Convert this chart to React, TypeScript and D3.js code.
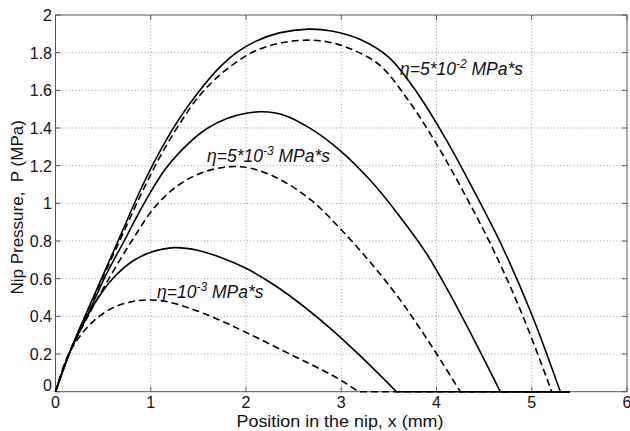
import React from "react";
import * as d3 from "d3";

type Pt = [number, number];

// η = 5*10^-2 MPa*s
const solidHigh: Pt[] = [[0,0],[0.15,0.21],[0.3,0.39],[0.5,0.62],[0.7,0.85],[0.9,1.08],[1.1,1.28],[1.3,1.45],[1.5,1.59],[1.7,1.71],[1.9,1.8],[2.1,1.86],[2.35,1.905],[2.65,1.925],[2.9,1.915],[3.2,1.87],[3.5,1.775],[3.8,1.585],[4.1,1.34],[4.4,1.06],[4.7,0.76],[5.0,0.41],[5.3,0],[5.4,0]];
const dashedHigh: Pt[] = [[0,0],[0.15,0.21],[0.3,0.385],[0.5,0.61],[0.7,0.83],[0.9,1.05],[1.1,1.25],[1.3,1.42],[1.5,1.565],[1.7,1.67],[1.9,1.75],[2.1,1.81],[2.35,1.85],[2.6,1.866],[2.85,1.858],[3.1,1.82],[3.4,1.735],[3.7,1.55],[4.0,1.315],[4.3,1.045],[4.6,0.75],[4.9,0.41],[5.21,0],[5.4,0]];
// η = 5*10^-3 MPa*s
const solidMid: Pt[] = [[0,0],[0.15,0.21],[0.33,0.4],[0.52,0.61],[0.72,0.8],[0.93,1.0],[1.15,1.18],[1.4,1.32],[1.6,1.4],[1.8,1.45],[2.0,1.478],[2.17,1.486],[2.4,1.468],[2.7,1.39],[3.0,1.275],[3.3,1.125],[3.6,0.94],[3.9,0.73],[4.15,0.51],[4.4,0.27],[4.67,0],[5.4,0]];
const dashedMid: Pt[] = [[0,0],[0.15,0.21],[0.34,0.4],[0.56,0.6],[0.8,0.8],[1.05,0.985],[1.3,1.1],[1.55,1.165],[1.85,1.195],[2.1,1.18],[2.4,1.115],[2.7,1.01],[3.0,0.86],[3.3,0.69],[3.6,0.5],[3.9,0.28],[4.25,0],[5.4,0]];
// η = 10^-3 MPa*s
const solidLow: Pt[] = [[0,0],[0.15,0.21],[0.3,0.37],[0.45,0.5],[0.6,0.6],[0.8,0.69],[1.0,0.74],[1.25,0.765],[1.5,0.75],[1.75,0.71],[2.0,0.655],[2.3,0.565],[2.6,0.455],[2.9,0.33],[3.2,0.19],[3.58,0],[5.4,0]];
const dashedLow: Pt[] = [[0,0],[0.12,0.18],[0.25,0.29],[0.4,0.375],[0.6,0.445],[0.8,0.478],[0.95,0.487],[1.15,0.48],[1.4,0.445],[1.7,0.385],[2.0,0.315],[2.5,0.19],[2.8,0.115],[3.0,0.06],[3.18,0],[5.4,0]];

const xTicks = [0, 1, 2, 3, 4, 5, 6];
const yTicks = [0, 0.2, 0.4, 0.6, 0.8, 1, 1.2, 1.4, 1.6, 1.8, 2];
const xLabel = "Position in the nip, x (mm)";
const yLabel = "Nip Pressure,  P (MPa)";

const series = [
  { data: solidHigh, dashed: false },
  { data: dashedHigh, dashed: true },
  { data: solidMid, dashed: false },
  { data: dashedMid, dashed: true },
  { data: solidLow, dashed: false },
  { data: dashedLow, dashed: true },
];

const annotations = [
  { x: 400, y: 75, exp: "-2", pre: "5*" },
  { x: 207, y: 162, exp: "-3", pre: "5*" },
  { x: 157, y: 298, exp: "-3", pre: "" },
];

export default function App() {
  const left = 55.5, right = 627, top = 15, bottom = 391.7;
  const x = d3.scaleLinear().domain([0, 6]).range([left, right]);
  const y = d3.scaleLinear().domain([0, 2]).range([bottom, top]);
  const curved = d3
    .line<Pt>()
    .x((d) => x(d[0]))
    .y((d) => y(d[1]))
    .curve(d3.curveCatmullRom.alpha(0.5));
  const straight = d3
    .line<Pt>()
    .x((d) => x(d[0]))
    .y((d) => y(d[1]));
  const pathFor = (data: Pt[]) => {
    let k = data.length - 1;
    for (let i = 1; i < data.length; i++) {
      if (data[i][1] === 0) { k = i; break; }
    }
    return (curved(data.slice(0, k + 1)) || "") + (straight(data.slice(k)) || "").replace(/^M/, "L");
  };
  const font = "'Liberation Sans', Arial, sans-serif";
  const axisColor = "#555";
  const gridColor = "#999";

  return (
    <svg
      width={630}
      height={431}
      style={{ position: "absolute", left: 0, top: 0, background: "#fff" }}
      fontFamily={font}
    >
      <rect x={0} y={0} width={630} height={431} fill="#fff" />
      {xTicks.slice(1, -1).map((t) => (
        <line key={"gx" + t} x1={x(t)} x2={x(t)} y1={top} y2={bottom} stroke={gridColor} strokeWidth={1} strokeDasharray="1,2.3" />
      ))}
      {yTicks.slice(1, -1).map((t) => (
        <line key={"gy" + t} x1={left} x2={right} y1={y(t)} y2={y(t)} stroke={gridColor} strokeWidth={1} strokeDasharray="1,2.3" />
      ))}
      <rect x={left} y={top} width={right - left} height={bottom - top} fill="none" stroke={axisColor} strokeWidth={1} />
      {xTicks.map((t) => (
        <g key={"tx" + t}>
          <line x1={x(t)} x2={x(t)} y1={bottom} y2={bottom - 5} stroke={axisColor} />
          <line x1={x(t)} x2={x(t)} y1={top} y2={top + 5} stroke={axisColor} />
          <text x={x(t)} y={408} textAnchor="middle" fontSize={16} fill="#111">{t}</text>
        </g>
      ))}
      {yTicks.map((t) => (
        <g key={"ty" + t}>
          <line x1={left} x2={left + 5} y1={y(t)} y2={y(t)} stroke={axisColor} />
          <line x1={right} x2={right - 5} y1={y(t)} y2={y(t)} stroke={axisColor} />
          <text x={52} y={y(t) + (t === 0 ? -1 : 6)} textAnchor="end" fontSize={16} fill="#111">
            {String(+t.toFixed(1))}
          </text>
        </g>
      ))}
      {series.map((s, i) => (
        <path
          key={"s" + i}
          d={pathFor(s.data)}
          fill="none"
          stroke="#000"
          strokeWidth={1.6}
          strokeDasharray={s.dashed ? "7,4" : undefined}
        />
      ))}
      {annotations.map((a, i) => (
        <text key={"a" + i} x={a.x} y={a.y} fontSize={17.5} fontStyle="italic" fill="#111">
          η={a.pre}10
          <tspan dy={-7} fontSize={12}>{a.exp}</tspan>
          <tspan dy={7}> MPa*s</tspan>
        </text>
      ))}
      <text x={340} y={427} textAnchor="middle" fontSize={17} textLength={207} lengthAdjust="spacingAndGlyphs" fill="#111">{xLabel}</text>
      <text
        transform={`translate(23, ${(top + bottom) / 2 + 4}) rotate(-90)`}
        textAnchor="middle"
        fontSize={17}
        fill="#111"
        style={{ whiteSpace: "pre" }}
      >
        {yLabel}
      </text>
    </svg>
  );
}
